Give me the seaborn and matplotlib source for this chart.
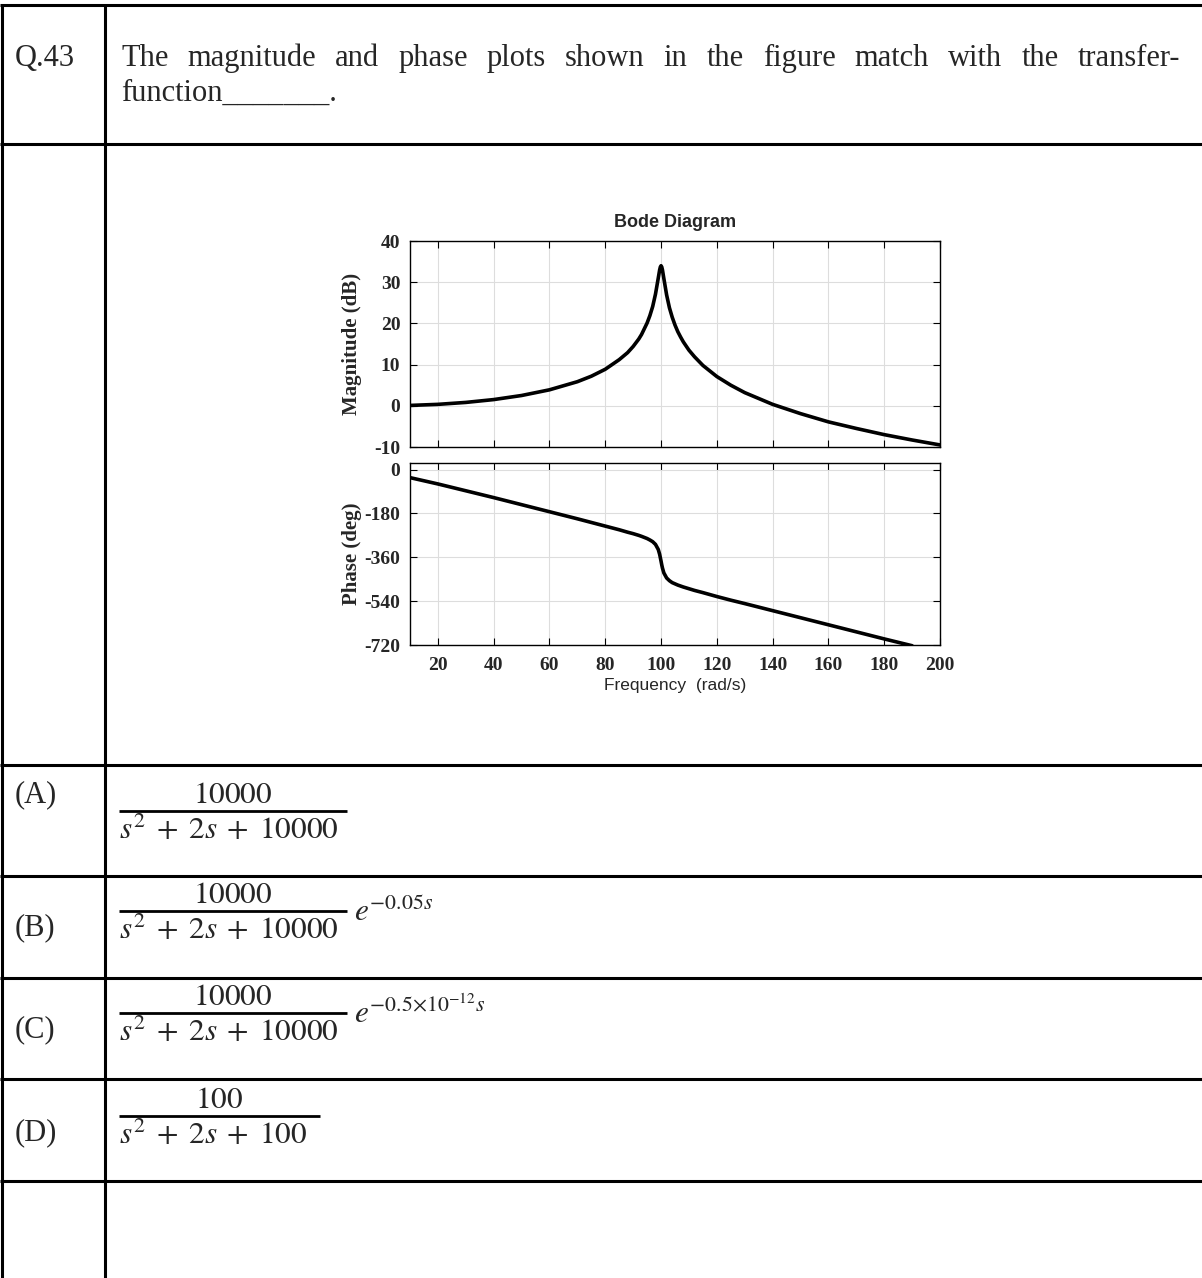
import numpy as np
import pandas as pd
import matplotlib
matplotlib.use("Agg")
import matplotlib.pyplot as plt
import seaborn as sns

# ---------------- data ----------------
freq = [10, 20, 30, 40, 50, 60, 70, 75, 80, 85, 88, 90, 92, 93, 95, 96, 97, 98, 99,
        99.5, 99.75, 100, 100.25, 100.5, 101, 102, 103, 104, 105, 106, 107, 108,
        110, 112, 115, 120, 125, 130, 140, 150, 160, 170, 180, 190, 200]
mag_db = [0.09, 0.35, 0.82, 1.51, 2.50, 3.88, 5.85, 7.18, 8.87, 11.2, 12.9, 14.4,
          16.2, 17.3, 20.1, 21.9, 24.1, 27.1, 31.0, 33.0, 33.7, 34.0, 33.7, 33.0,
          30.9, 26.9, 23.8, 21.5, 19.6, 18.0, 16.7, 15.5, 13.5, 11.9, 9.8, 7.1,
          5.0, 3.2, 0.35, -1.9, -3.9, -5.5, -7.0, -8.3, -9.5]
phase_freq = freq[:-1]
phase_deg = [-33, -59, -87, -115, -144, -173, -202, -217, -232, -247, -257, -263,
             -270, -274, -283, -289, -296, -307, -328, -348, -362, -376, -391, -404,
             -424, -445, -456, -464, -469, -474, -478, -482, -489, -496, -505, -521,
             -536, -550, -579, -608, -637, -666, -695, -723]

x_ticks = [20, 40, 60, 80, 100, 120, 140, 160, 180, 200]
mag_ticks = [-10, 0, 10, 20, 30, 40]
phase_ticks = [-720, -540, -360, -180, 0]

question_no = "Q.43"
question_line1 = "The magnitude and phase plots shown in the figure match with the transfer-"
question_line2 = "function_______."
option_labels = ["(A)", "(B)", "(C)", "(D)"]
option_num = ["10000", "10000", "10000", "100"]
option_den = [r"$s^2 \;+\; 2s \;+\; 10000$", r"$s^2 \;+\; 2s \;+\; 10000$",
              r"$s^2 \;+\; 2s \;+\; 10000$", r"$s^2 \;+\; 2s \;+\; 100$"]
option_exp = [None, r"$e^{-0.05s}$", r"$e^{-0.5{\times}10^{-12}s}$", None]

# ---------------- styling ----------------
sns.set_theme(style="white")
plt.rcParams['font.family'] = ['Liberation Serif', 'DejaVu Serif']
plt.rcParams['mathtext.fontset'] = 'stix'
plt.rcParams['axes.unicode_minus'] = False

W, H = 1202, 1278
fig = plt.figure(figsize=(W / 100, H / 100), dpi=100)
fig.patch.set_facecolor('white')
bg = fig.add_axes([0, 0, 1, 1])
bg.set_xlim(0, W)
bg.set_ylim(H, 0)
bg.axis('off')

# ---------------- table grid ----------------
lw_tab = 2.2
row_lines = [5, 144, 765, 876, 978, 1079, 1181]
for y in row_lines:
    bg.plot([0, W], [y, y], color='black', lw=lw_tab, solid_capstyle='butt')
bg.plot([1.5, 1.5], [5, H], color='black', lw=lw_tab)
bg.plot([105, 105], [5, H], color='black', lw=lw_tab)

# ---------------- question text ----------------
fs_txt = 22
bg.text(15, 66, question_no, fontsize=fs_txt, va='baseline', ha='left')
renderer = fig.canvas.get_renderer()
words = question_line1.split()
arts = [bg.text(0, 66, w, fontsize=fs_txt, va='baseline', ha='left') for w in words]
widths = [a.get_window_extent(renderer).width for a in arts]
x0, x1 = 121, 1180
gap = (x1 - x0 - sum(widths)) / (len(words) - 1)
xc = x0
for a, wdt in zip(arts, widths):
    a.set_x(xc)
    xc += wdt + gap
bg.text(x0, 101, question_line2, fontsize=fs_txt, va='baseline', ha='left')

# ---------------- options ----------------
label_y = [795, 928, 1030, 1133]
bar_y = [811, 911, 1013, 1116]
bar_x1 = [347, 347, 347, 320]
fs_math = 22.5
for i in range(4):
    bg.text(15, label_y[i], option_labels[i], fontsize=fs_txt, va='center', ha='left')
    by = bar_y[i]
    bg.plot([119, bar_x1[i]], [by, by], color='black', lw=2.0, solid_capstyle='butt')
    bg.text((119 + bar_x1[i]) / 2, by - 8, "$" + option_num[i] + "$", fontsize=fs_math,
            ha='center', va='baseline')
    bg.text(119, by + 5, option_den[i], fontsize=fs_math, ha='left', va='top')
    if option_exp[i]:
        bg.text(354, by + 10, option_exp[i], fontsize=fs_math, ha='left', va='baseline')

# ---------------- Bode diagram ----------------
def px_axes(l, t, r, b):
    return fig.add_axes([l / W, 1 - b / H, (r - l) / W, (b - t) / H])

ax1 = px_axes(410, 241, 940, 447)
ax2 = px_axes(410, 463, 940, 645)

df_mag = pd.DataFrame({"freq": freq, "mag": mag_db})
df_ph = pd.DataFrame({"freq": phase_freq, "phase": phase_deg})
sns.lineplot(data=df_mag, x="freq", y="mag", ax=ax1, color='black', lw=2.6)
sns.lineplot(data=df_ph, x="freq", y="phase", ax=ax2, color='black', lw=2.6)

for ax in (ax1, ax2):
    ax.set_xlim(10, 200)
    ax.set_xticks(x_ticks)
    ax.set_facecolor('white')
    ax.grid(True, color='#dddddd', lw=0.8)
    ax.set_axisbelow(True)
    for s in ax.spines.values():
        s.set_color('black')
        s.set_linewidth(1.0)
        s.set_visible(True)
    ax.tick_params(direction='in', top=True, right=True, bottom=True, left=True,
                   length=5, width=0.8, color='black', labelsize=14, pad=7)
    ax.set_xlabel("")
    ax.set_ylabel("")

ax1.set_ylim(-10, 40)
ax1.set_yticks(mag_ticks)
ax1.tick_params(labelbottom=False)
ax2.set_ylim(-720, 27)
ax2.set_yticks(phase_ticks)
ax2.tick_params(axis='x', pad=9)

for ax in (ax1, ax2):
    for lab in ax.get_xticklabels() + ax.get_yticklabels():
        lab.set_fontweight('bold')

ax1.set_title("Bode Diagram", fontfamily='Liberation Sans', fontweight='bold',
              fontsize=13, pad=10)
ax1.set_ylabel("Magnitude (dB)", fontsize=15, fontweight='bold')
ax1.yaxis.set_label_coords(-0.11, 0.5)
ax1.yaxis.label.set_verticalalignment('center')
ax2.set_ylabel("Phase (deg)", fontsize=15, fontweight='bold')
ax2.yaxis.set_label_coords(-0.11, 0.5)
ax2.yaxis.label.set_verticalalignment('center')
ax2.set_xlabel("Frequency  (rad/s)", fontfamily='Liberation Sans', fontsize=12.5)
ax2.xaxis.set_label_coords(0.5, -(678 - 645) / 182)

fig.savefig("out.png", dpi=100, facecolor='white')
